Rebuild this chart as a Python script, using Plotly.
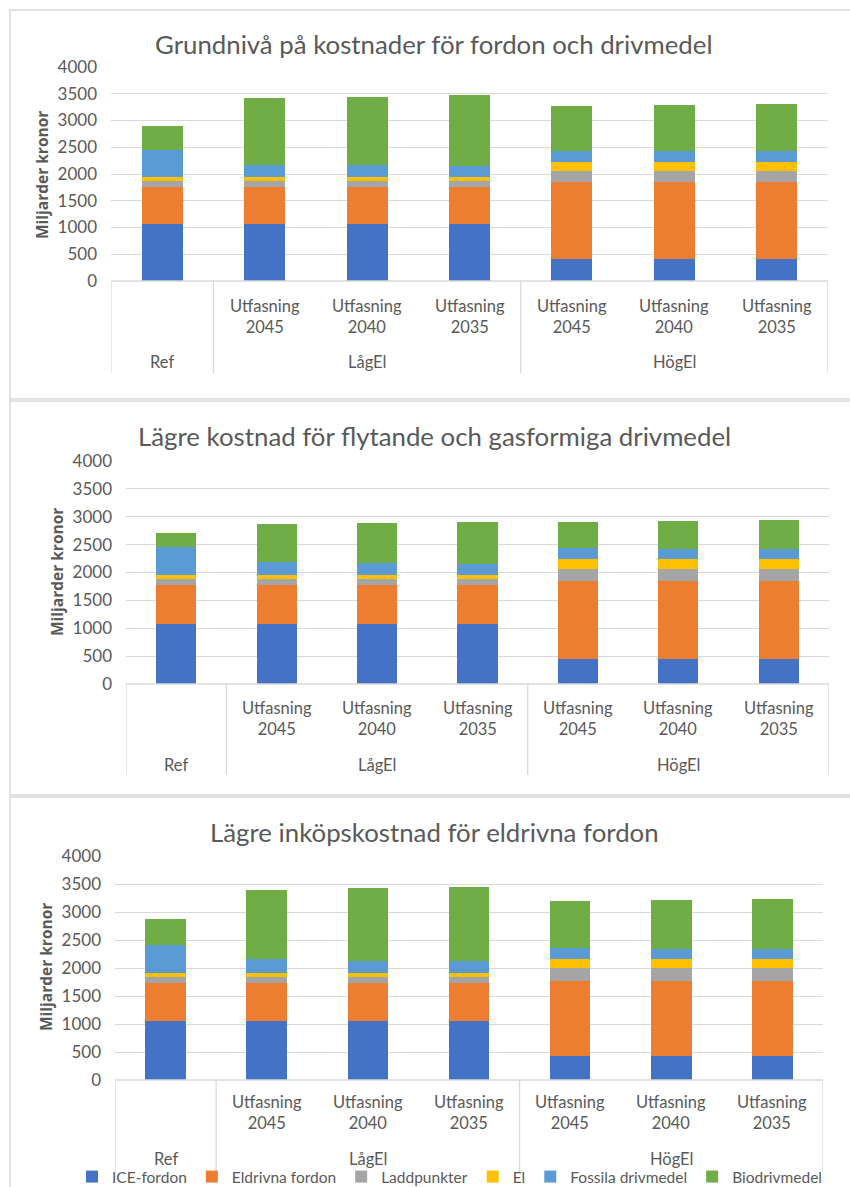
import plotly.graph_objects as go

W, H = 850, 1187

# ---------------- data ----------------
groups = ["Ref", "LågEl", "LågEl", "LågEl", "HögEl", "HögEl", "HögEl"]
subs = ["", "Utfasning<br>2045", "Utfasning<br>2040", "Utfasning<br>2035",
        "Utfasning<br>2045", "Utfasning<br>2040", "Utfasning<br>2035"]
series_names = ["ICE-fordon", "Eldrivna fordon", "Laddpunkter", "El",
                "Fossila drivmedel", "Biodrivmedel"]
series_colors = ["#4472C4", "#ED7D31", "#A5A5A5", "#FFC000", "#5B9BD5", "#70AD47"]

titles = ["Grundnivå på kostnader för fordon och drivmedel",
          "Lägre kostnad för flytande och gasformiga drivmedel",
          "Lägre inköpskostnad för eldrivna fordon"]
y_title = "Miljarder kronor"
y_ticks = [0, 500, 1000, 1500, 2000, 2500, 3000, 3500, 4000]

# Panel 1: Grundnivå
p1_ice = [1065, 1065, 1065, 1065, 417, 417, 417]
p1_eldrivna = [700, 700, 700, 700, 1427, 1427, 1427]
p1_ladd = [100, 100, 100, 100, 218, 218, 218]
p1_el = [75, 75, 75, 75, 162, 162, 162]
p1_fossil = [500, 230, 230, 218, 212, 212, 200]
p1_bio = [460, 1246, 1265, 1314, 835, 854, 884]

# Panel 2: Lägre kostnad för flytande och gasformiga drivmedel
p2_ice = [1070, 1070, 1070, 1070, 443, 443, 443]
p2_eldrivna = [712, 712, 712, 712, 1405, 1405, 1405]
p2_ladd = [102, 102, 102, 102, 221, 221, 221]
p2_el = [72, 72, 72, 72, 174, 174, 174]
p2_fossil = [496, 233, 215, 197, 203, 185, 185]
p2_bio = [251, 688, 724, 760, 467, 503, 507]

# Panel 3: Lägre inköpskostnad för eldrivna fordon
p3_ice = [1052, 1052, 1052, 1052, 422, 422, 422]
p3_eldrivna = [684, 684, 684, 684, 1338, 1338, 1338]
p3_ladd = [107, 107, 107, 107, 232, 232, 232]
p3_el = [71, 71, 71, 71, 160, 160, 160]
p3_fossil = [488, 238, 214, 203, 214, 190, 190]
p3_bio = [470, 1249, 1302, 1331, 827, 868, 886]

panels = [
    [p1_ice, p1_eldrivna, p1_ladd, p1_el, p1_fossil, p1_bio],
    [p2_ice, p2_eldrivna, p2_ladd, p2_el, p2_fossil, p2_bio],
    [p3_ice, p3_eldrivna, p3_ladd, p3_el, p3_fossil, p3_bio],
]

# ---------------- layout geometry (window pixels) ----------------
FONT = "Lato"
TXT = "#595959"
GRID = "#D9D9D9"

# plot area: left, right, top(4000), bottom(0)
areas = [(111, 828, 67, 281), (126, 829, 461, 684), (115, 823, 856, 1080)]
title_y = [44, 436, 832]
title_x = 434
sub_y = [316, 718, 1112]
grp_y = [362, 765, 1159]
div_bottom = [373, 775, 1172]
ytitle_pos = [(42, 175), (57, 572), (46, 967)]
frames = [(10, 399), (401, 795), (797, 1200)]


def px(x):
    return x / W


def py(y):
    return 1 - y / H


x_idx = list(range(len(groups)))

fig = go.Figure()
layout_axes = {}
shapes = []
annotations = []

for p, data in enumerate(panels):
    k = "" if p == 0 else str(p + 1)
    xa, ya = "x" + k, "y" + k
    for s, vals in enumerate(data):
        fig.add_trace(go.Bar(
            x=x_idx, y=vals, name=series_names[s],
            marker=dict(color=series_colors[s], line=dict(width=0)),
            xaxis=xa, yaxis=ya, legendgroup=series_names[s],
            showlegend=(p == 2),
        ))
    l, r, t, b = areas[p]
    layout_axes["xaxis" + k] = dict(
        domain=[px(l), px(r)], anchor=ya, range=[-0.5, len(groups) - 0.5],
        showticklabels=False, showgrid=False, zeroline=False,
        showline=False, ticks="", fixedrange=True, automargin=False,
    )
    layout_axes["yaxis" + k] = dict(
        domain=[py(b), py(t)], anchor=xa, range=[0, 4000],
        tickvals=y_ticks, showgrid=True, gridcolor=GRID, gridwidth=1.3,
        zeroline=False, showline=False, ticks="", automargin=False,
        tickfont=dict(family=FONT, size=17, color=TXT),
        ticklabelstandoff=13,
    )
    # bottom axis line
    shapes.append(dict(type="line", xref=xa + " domain", yref="paper",
                       x0=0, x1=1, y0=py(b), y1=py(b),
                       line=dict(color=GRID, width=1.3)))
    # category dividers (group boundaries)
    bounds = [-0.5]
    for i in range(1, len(groups)):
        if groups[i] != groups[i - 1]:
            bounds.append(i - 0.5)
    bounds.append(len(groups) - 0.5)
    for bx in bounds:
        shapes.append(dict(type="line", xref=xa, yref="paper",
                           x0=bx, x1=bx, y0=py(b), y1=py(div_bottom[p]),
                           line=dict(color=GRID, width=1.3)))
    # sub-category labels
    for i, lab in enumerate(subs):
        if lab:
            annotations.append(dict(x=i, y=py(sub_y[p]), xref=xa, yref="paper",
                                    text=lab, showarrow=False, yanchor="middle",
                                    font=dict(family=FONT, size=16.5, color=TXT)))
    # group labels
    seen = []
    for g in groups:
        if g not in seen:
            seen.append(g)
    for g in seen:
        idx = [i for i, gg in enumerate(groups) if gg == g]
        annotations.append(dict(x=sum(idx) / len(idx), y=py(grp_y[p]), xref=xa, yref="paper",
                                text=g, showarrow=False, yanchor="middle",
                                font=dict(family=FONT, size=16.5, color=TXT)))
    # title
    annotations.append(dict(x=px(title_x), y=py(title_y[p]), xref="paper", yref="paper",
                            text=titles[p], showarrow=False, yanchor="middle",
                            font=dict(family=FONT, size=25.8, color=TXT)))
    # y-axis title
    tx, ty = ytitle_pos[p]
    annotations.append(dict(x=px(tx), y=py(ty), xref="paper", yref="paper",
                            text="<b>" + y_title + "</b>", showarrow=False, textangle=-90,
                            xanchor="center", yanchor="middle",
                            font=dict(family="Open Sans", size=15.5, color=TXT)))
    # panel frame
    f0, f1 = frames[p]
    shapes.append(dict(type="rect", xref="paper", yref="paper",
                       x0=px(10), x1=1.2, y0=py(f1), y1=py(f0),
                       line=dict(color=GRID, width=1.5), layer="below"))

fig.update_layout(
    width=W, height=H,
    margin=dict(l=0, r=0, t=0, b=0, autoexpand=False),
    paper_bgcolor="white", plot_bgcolor="white",
    barmode="stack", bargap=0.6,
    showlegend=True,
    legend=dict(orientation="h", x=px(72), y=py(1177), xanchor="left", yanchor="middle",
                font=dict(family=FONT, size=15.5, color=TXT),
                itemwidth=30, traceorder="normal", bgcolor="rgba(0,0,0,0)"),
    shapes=shapes, annotations=annotations,
    **layout_axes,
)

fig.write_html("out.html", config={"displayModeBar": False},
               post_script="document.body.style.margin='0px';")
